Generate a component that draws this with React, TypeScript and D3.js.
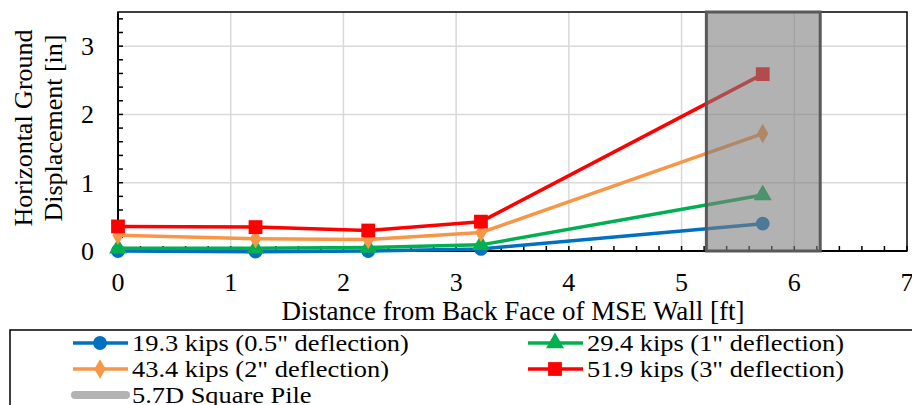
import React from 'react';
import * as d3 from 'd3';

const distances = [0, 1.22, 2.22, 3.22, 5.72];
const seriesNames = [
  '19.3 kips (0.5" deflection)',
  '29.4 kips (1" deflection)',
  '43.4 kips (2" deflection)',
  '51.9 kips (3" deflection)',
];
const blueVals = [0.0, -0.01, 0.0, 0.03, 0.4];
const greenVals = [0.04, 0.04, 0.05, 0.09, 0.82];
const orangeVals = [0.23, 0.18, 0.17, 0.27, 1.72];
const redVals = [0.36, 0.35, 0.3, 0.43, 2.59];
const pileRange = [5.22, 6.23];
const xTicks = [0, 1, 2, 3, 4, 5, 6, 7];
const yTicks = [0, 1, 2, 3];

const W = 912, H = 405;
const m = { left: 118, right: 907, top: 12, bottom: 251 };
const serif = { fontFamily: "'Liberation Serif', 'Times New Roman', Times, serif" };

const series = [
  { name: seriesNames[0], vals: blueVals, color: '#0070C0', shape: 'circle' },
  { name: seriesNames[1], vals: greenVals, color: '#00B050', shape: 'triangle' },
  { name: seriesNames[2], vals: orangeVals, color: '#F79646', shape: 'diamond' },
  { name: seriesNames[3], vals: redVals, color: '#FF0000', shape: 'square' },
];

const symbolOf = (s: string) =>
  s === 'circle' ? d3.symbolCircle : s === 'triangle' ? d3.symbolTriangle : s === 'diamond' ? d3.symbolDiamond : d3.symbolSquare;
const sizeOf = (s: string) => (s === 'circle' ? 150 : s === 'triangle' ? 140 : s === 'diamond' ? 110 : 190);

export default function App() {
  const x = d3.scaleLinear().domain([0, 7]).range([m.left, m.right]);
  const y = d3.scaleLinear().domain([0, 3.5]).range([m.bottom, m.top]);
  const line = d3.line<number>().x((d, i) => x(distances[i])).y(d => y(d));
  const minorX = d3.range(0, 7.001, 0.2);
  const minorY = d3.range(0, 3.501, 0.2);

  const marker = (shape: string, color: string, cx: number, cy: number, key: string) => (
    <path key={key} d={d3.symbol().type(symbolOf(shape)).size(sizeOf(shape))() || ''} fill={color}
      transform={`translate(${cx},${cy})`} />
  );

  const legendPos = [
    { x: 73, y: 343 },
    { x: 528, y: 343 },
    { x: 73, y: 369 },
    { x: 528, y: 369 },
  ];

  return (
    <div style={{ position: 'absolute', left: 0, top: 0 }}>
      <svg width={W} height={H} style={{ display: 'block', background: '#fff' }}>
        {/* grid */}
        {xTicks.slice(1, -1).map(t => (
          <line key={'gx' + t} x1={x(t)} x2={x(t)} y1={m.top} y2={m.bottom} stroke="#d9d9d9" strokeWidth={1.5} />
        ))}
        {yTicks.slice(1).map(t => (
          <line key={'gy' + t} x1={m.left} x2={m.right} y1={y(t)} y2={y(t)} stroke="#d9d9d9" strokeWidth={1.5} />
        ))}
        {/* minor ticks */}
        {minorX.map((t, i) => (
          <line key={'tx' + i} x1={x(t)} x2={x(t)} y1={m.bottom} y2={m.bottom - 5} stroke="#000" strokeWidth={1.5} />
        ))}
        {minorY.map((t, i) => (
          <line key={'ty' + i} x1={m.left} x2={m.left + 5} y1={y(t)} y2={y(t)} stroke="#000" strokeWidth={1.5} />
        ))}
        {/* frame */}
        <rect x={m.left} y={m.top} width={m.right - m.left} height={m.bottom - m.top} fill="none" stroke="#000" strokeWidth={1.5} />
        <line x1={m.left} x2={m.left} y1={m.top} y2={m.bottom} stroke="#000" strokeWidth={2} />
        <line x1={m.left} x2={m.right} y1={m.bottom} y2={m.bottom} stroke="#000" strokeWidth={2} />
        {/* series */}
        {series.map(s => (
          <g key={s.name}>
            <path d={line(s.vals) || ''} fill="none" stroke={s.color} strokeWidth={3.5} strokeLinejoin="round" />
            {s.vals.map((v, i) => marker(s.shape, s.color, x(distances[i]), y(v), s.name + i))}
          </g>
        ))}
        {/* pile */}
        <rect x={x(pileRange[0])} y={m.top} width={x(pileRange[1]) - x(pileRange[0])} height={m.bottom - m.top}
          fill="#7f7f7f" fillOpacity={0.6} stroke="#595959" strokeWidth={3} />
        {/* tick labels */}
        {xTicks.map(t => (
          <text key={'lx' + t} x={x(t)} y={291} textAnchor="middle" fontSize={26} style={serif}>{t}</text>
        ))}
        {yTicks.map(t => (
          <text key={'ly' + t} x={94} y={y(t) + 9} textAnchor="end" fontSize={26} style={serif}>{t}</text>
        ))}
        {/* axis titles */}
        <text x={513} y={320} textAnchor="middle" fontSize={27} style={serif}>Distance from Back Face of MSE Wall [ft]</text>
        <text transform="translate(32,128) rotate(-90)" textAnchor="middle" fontSize={26} style={serif}>Horizontal Ground</text>
        <text transform="translate(62,128) rotate(-90)" textAnchor="middle" fontSize={26} style={serif}>Displacement [in]</text>
        {/* legend */}
        <rect x={10} y={330} width={W} height={H} fill="#fff" stroke="#000" strokeWidth={1.5} />
        {series.map((s, i) => (
          <g key={'leg' + i}>
            <line x1={legendPos[i].x} x2={legendPos[i].x + 55} y1={legendPos[i].y} y2={legendPos[i].y} stroke={s.color} strokeWidth={3.5} />
            {marker(s.shape, s.color, legendPos[i].x + 27, legendPos[i].y, 'lm' + i)}
            <text transform={`translate(${legendPos[i].x + 59},${legendPos[i].y + 8}) scale(1.1,1)`} fontSize={24} style={serif}>{s.name}</text>
          </g>
        ))}
        <line x1={75} x2={126} y1={395} y2={395} stroke="#b3b3b3" strokeWidth={8} strokeLinecap="round" />
        <text transform="translate(132,403) scale(1.1,1)" fontSize={24} style={serif}>5.7D Square Pile</text>
      </svg>
    </div>
  );
}
